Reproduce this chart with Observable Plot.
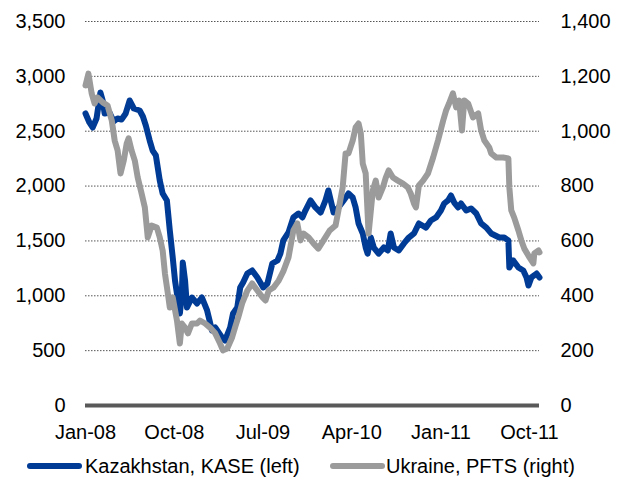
<!DOCTYPE html>
<html>
<head>
<meta charset="utf-8">
<script src="https://cdn.jsdelivr.net/npm/d3@7"></script>
<script src="https://cdn.jsdelivr.net/npm/@observablehq/plot@0.6"></script>
<style>
  html, body { margin: 0; padding: 0; background: #fff; }
  #wrap { width: 624px; font-family: "Liberation Sans", Arial, sans-serif; }
  #legend { position: relative; width: 624px; height: 40px; font-size: 20px; color: #000; }
  #legend .sw { position: absolute; height: 6px; border-radius: 3px; }
  #legend .lb { position: absolute; line-height: 20px; white-space: nowrap; }
</style>
</head>
<body>
<div id="wrap"><div id="chart"></div><div id="legend"></div></div>
<script>
const kaseDates = ["2008-01-01","2008-01-13","2008-01-23","2008-02-04","2008-02-16","2008-02-23","2008-02-29","2008-03-15","2008-03-28","2008-04-09","2008-04-21","2008-05-04","2008-05-16","2008-05-29","2008-06-16","2008-06-26","2008-07-05","2008-07-17","2008-07-26","2008-08-05","2008-08-17","2008-08-26","2008-09-08","2008-09-17","2008-09-26","2008-10-03","2008-10-09","2008-10-18","2008-10-24","2008-10-27","2008-11-03","2008-11-09","2008-11-24","2008-12-10","2008-12-25","2009-01-10","2009-01-25","2009-02-04","2009-02-25","2009-03-06","2009-03-22","2009-03-31","2009-04-13","2009-04-22","2009-05-01","2009-05-14","2009-05-29","2009-06-14","2009-07-02","2009-07-15","2009-07-30","2009-08-15","2009-08-24","2009-09-02","2009-09-18","2009-10-03","2009-10-19","2009-10-31","2009-11-09","2009-11-25","2009-12-10","2009-12-26","2010-01-10","2010-01-19","2010-02-04","2010-02-19","2010-03-07","2010-03-22","2010-04-04","2010-04-13","2010-04-22","2010-05-05","2010-05-14","2010-05-20","2010-05-30","2010-06-08","2010-06-23","2010-07-09","2010-07-21","2010-07-30","2010-08-09","2010-08-24","2010-09-09","2010-09-24","2010-10-10","2010-10-25","2010-11-16","2010-12-01","2010-12-17","2011-01-01","2011-01-11","2011-01-23","2011-02-01","2011-02-11","2011-02-23","2011-03-04","2011-03-20","2011-04-04","2011-04-20","2011-05-05","2011-05-21","2011-06-05","2011-06-30","2011-07-15","2011-07-28","2011-07-31","2011-08-12","2011-08-28","2011-09-12","2011-09-22","2011-09-28","2011-10-07","2011-10-23","2011-11-01"];
const kaseValues = [2662,2580,2534,2616,2853,2780,2662,2671,2589,2616,2607,2662,2780,2707,2689,2634,2552,2415,2324,2279,2051,1932,1869,1595,1349,1139,1021,839,1003,1303,1139,893,984,930,984,866,684,711,620,592,711,839,893,1076,1121,1203,1231,1167,1076,1112,1294,1322,1385,1504,1577,1714,1750,1714,1777,1869,1805,1759,1869,1960,1759,1805,1869,1932,1896,1805,1659,1568,1440,1385,1531,1440,1385,1440,1413,1568,1440,1413,1477,1531,1568,1659,1622,1686,1714,1777,1841,1869,1914,1850,1805,1841,1777,1796,1750,1659,1622,1568,1531,1531,1504,1258,1322,1258,1231,1167,1094,1167,1203,1167];

const pftsDates = ["2008-01-01","2008-01-10","2008-01-20","2008-01-29","2008-02-07","2008-02-23","2008-03-09","2008-03-22","2008-03-31","2008-04-09","2008-04-18","2008-04-28","2008-05-07","2008-05-13","2008-05-22","2008-06-01","2008-06-10","2008-06-22","2008-07-02","2008-07-11","2008-07-23","2008-08-08","2008-08-17","2008-08-26","2008-09-02","2008-09-11","2008-09-17","2008-09-26","2008-10-09","2008-10-18","2008-10-24","2008-11-03","2008-11-12","2008-11-24","2008-12-10","2008-12-19","2009-01-04","2009-01-19","2009-02-04","2009-02-19","2009-02-28","2009-03-13","2009-03-28","2009-04-06","2009-04-16","2009-04-28","2009-05-14","2009-05-29","2009-06-14","2009-06-30","2009-07-09","2009-07-19","2009-08-03","2009-08-19","2009-09-03","2009-09-18","2009-10-03","2009-10-15","2009-10-25","2009-11-03","2009-11-19","2009-12-04","2009-12-19","2010-01-04","2010-01-23","2010-02-10","2010-02-19","2010-03-04","2010-03-13","2010-03-22","2010-04-04","2010-04-13","2010-04-22","2010-04-29","2010-05-05","2010-05-14","2010-05-23","2010-06-05","2010-06-14","2010-06-23","2010-07-06","2010-07-15","2010-07-24","2010-08-06","2010-08-21","2010-09-06","2010-09-21","2010-09-30","2010-10-10","2010-10-16","2010-10-25","2010-11-07","2010-11-22","2010-12-08","2010-12-23","2011-01-08","2011-01-17","2011-01-26","2011-02-07","2011-02-17","2011-02-26","2011-03-07","2011-03-14","2011-03-26","2011-04-10","2011-04-26","2011-05-05","2011-05-15","2011-05-30","2011-06-05","2011-06-21","2011-07-12","2011-07-28","2011-07-31","2011-08-06","2011-08-15","2011-08-28","2011-09-06","2011-09-15","2011-10-01","2011-10-13","2011-10-16","2011-10-29","2011-11-01"];
const pftsValues = [1167,1210,1138,1101,1123,1105,1094,1039,966,930,846,893,955,974,930,893,831,773,722,613,656,649,613,565,481,408,357,394,310,226,299,284,263,299,299,310,299,284,263,226,201,208,248,284,321,372,419,445,419,394,383,419,430,456,492,540,638,664,602,627,613,591,572,602,638,656,711,795,919,919,966,1014,1028,992,882,846,627,784,820,758,795,831,857,831,820,809,795,773,736,722,802,820,846,904,966,1039,1076,1101,1138,1087,1112,1003,1112,1101,1050,1065,1003,966,941,919,904,904,901,795,711,685,638,602,572,540,518,554,565,558];

const xTickLabels = ["2008-01-01","2008-10-01","2009-07-01","2010-04-01","2011-01-01","2011-10-01"];
const leftTicks = [0,500,1000,1500,2000,2500,3000,3500];
const rightTicks = [0,200,400,600,800,1000,1200,1400];

const seriesNames = ["Kazakhstan, KASE (left)", "Ukraine, PFTS (right)"];
const seriesColors = ["#003B95", "#9B9B9B"];

const parse = d3.utcParse("%Y-%m-%d");
const kase = kaseDates.map((d, i) => ({date: parse(d), value: kaseValues[i]}));
const pfts = pftsDates.map((d, i) => ({date: parse(d), value: pftsValues[i]}));
const ratio = leftTicks[leftTicks.length - 1] / rightTicks[rightTicks.length - 1];

const chart = Plot.plot({
  width: 624,
  height: 448,
  marginLeft: 85,
  marginRight: 85,
  marginTop: 21,
  marginBottom: 43,
  style: {fontFamily: '"Liberation Sans", Arial, sans-serif', fontSize: "20px", color: "#000", background: "#fff", overflow: "visible"},
  x: {type: "utc", domain: [parse(kaseDates[0]), parse(kaseDates[kaseDates.length - 1])]},
  y: {domain: [0, leftTicks[leftTicks.length - 1]]},
  marks: [
    Plot.ruleY(leftTicks.slice(1), {stroke: "#555", strokeWidth: 1, strokeDasharray: "1.5,1.5"}),
    Plot.axisX({ticks: xTickLabels.map(parse), tickFormat: d3.utcFormat("%b-%y"), tickSize: 0, tickPadding: 19, label: null, fontSize: 20}),
    Plot.axisY({ticks: leftTicks, tickFormat: d3.format(","), tickSize: 0, tickPadding: 20, label: null, anchor: "left", fontSize: 20}),
    Plot.axisY({ticks: rightTicks.map(v => v * ratio), tickFormat: v => d3.format(",")(Math.round(v / ratio)), tickSize: 0, tickPadding: 21, label: null, anchor: "right", fontSize: 20}),
    Plot.lineY(kase, {x: "date", y: "value", stroke: seriesColors[0], strokeWidth: 6, strokeLinejoin: "round", strokeLinecap: "round"}),
    Plot.lineY(pfts, {x: "date", y: d => d.value * ratio, stroke: seriesColors[1], strokeWidth: 6, strokeLinejoin: "round", strokeLinecap: "round"}),
    Plot.ruleY([0], {stroke: "#595959", strokeWidth: 4})
  ]
});
document.getElementById("chart").appendChild(chart);

const legend = document.getElementById("legend");
const legendPos = [{sw: 27, lb: 85}, {sw: 330, lb: 386}];
seriesNames.forEach((name, i) => {
  const sw = document.createElement("div");
  sw.className = "sw";
  sw.style.left = legendPos[i].sw + "px";
  sw.style.width = "55px";
  sw.style.top = "15px";
  sw.style.background = seriesColors[i];
  legend.appendChild(sw);
  const lb = document.createElement("div");
  lb.className = "lb";
  lb.style.left = legendPos[i].lb + "px";
  lb.style.top = "8px";
  lb.textContent = name;
  legend.appendChild(lb);
});
</script>
</body>
</html>
